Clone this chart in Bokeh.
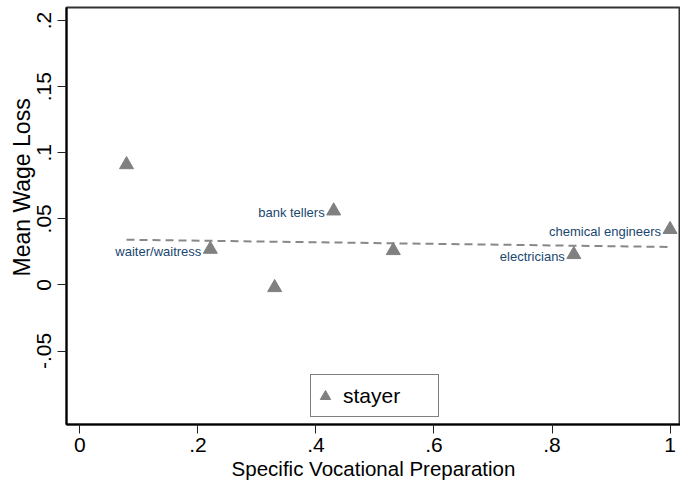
import math
from bokeh.plotting import figure
from bokeh.models import (ColumnDataSource, FixedTicker, Legend, LegendItem, Title)
from bokeh.core.properties import value
from bokeh.embed import file_html
from bokeh.resources import INLINE

# ---- data ----
svp = [0.079, 0.221, 0.330, 0.430, 0.531, 0.837, 1.000]
wage_loss = [0.091, 0.027, -0.002, 0.056, 0.026, 0.023, 0.042]
occ_labels = ["", "waiter/waitress", "", "bank tellers", "", "electricians", "chemical engineers"]
fit_x = [0.079, 1.000]
fit_y = [0.0342, 0.0287]
x_ticks = [0, 0.2, 0.4, 0.6, 0.8, 1.0]
x_tick_labels = ["0", ".2", ".4", ".6", ".8", "1"]
y_ticks = [-0.05, 0, 0.05, 0.1, 0.15, 0.2]
y_tick_labels = ["-.05", "0", ".05", ".1", ".15", ".2"]
series_name = "stayer"
x_title = "Specific Vocational Preparation"
y_title = "Mean Wage Loss"

FONT = "Liberation Sans"
GRAY = "#808080"
NAVY = "#1a476f"

p = figure(width=680, height=482, output_backend="svg", toolbar_location=None,
           x_range=(-0.0227, 1.0177), y_range=(-0.1056, 0.2099),
           min_border_left=66, min_border_right=0, min_border_top=7, min_border_bottom=57)
p.background_fill_color = "white"
p.border_fill_color = "white"
p.outline_line_color = "#333333"
p.outline_line_width = 2
p.xgrid.visible = False
p.ygrid.visible = False

src = ColumnDataSource(dict(x=svp, y=wage_loss, lab=occ_labels))

fit = p.line(fit_x, fit_y, line_color="#888888", line_width=2, line_dash="8 5")
pts = p.scatter("x", "y", source=src, marker="triangle", size=14,
                fill_color=GRAY, line_color=GRAY)
p.text("x", "y", text="lab", source=src, x_offset=-9, y_offset=2,
       text_align="right", text_baseline="middle",
       text_font=value(FONT), text_font_size="13px", text_color=NAVY)

# axes
xa = p.xaxis[0]
xa.ticker = FixedTicker(ticks=x_ticks)
xa.major_label_overrides = {t: l for t, l in zip(x_ticks, x_tick_labels)}
xa.axis_label = x_title
ya = p.yaxis[0]
ya.ticker = FixedTicker(ticks=y_ticks)
ya.major_label_overrides = {t: l for t, l in zip(y_ticks, y_tick_labels)}
ya.major_label_orientation = "vertical"

for ax in (xa, ya):
    ax.axis_line_color = "black"
    ax.axis_line_width = 2
    ax.major_tick_line_color = "#222222"
    ax.major_tick_line_width = 1
    ax.major_tick_out = 9
    ax.major_tick_in = 0
    ax.minor_tick_line_color = None
    ax.major_label_text_font = FONT
    ax.major_label_text_font_size = "21px"
    ax.major_label_text_color = "black"
    ax.axis_label_text_font = FONT
    ax.axis_label_text_font_size = "20.5px"
    ax.axis_label_text_font_style = "normal"
    ax.axis_label_text_color = "black"
xa.major_label_standoff = 4
xa.axis_label_standoff = 2
ya.major_label_standoff = 6

# y title, shifted along the axis like Stata (centred on the tick range)
p.add_layout(Title(text=y_title, align="left", offset=148,
                   text_font=FONT, text_font_size="23px", text_font_style="normal",
                   text_color="black", standoff=0), "left")

legend = Legend(items=[LegendItem(label=series_name, renderers=[pts])],
                location=(244, 7), orientation="vertical",
                border_line_color="black", border_line_width=1,
                background_fill_color="white", background_fill_alpha=1,
                padding=1, spacing=0, margin=0,
                glyph_width=26, glyph_height=26, label_standoff=5,
                label_width=94, label_height=39,
                label_text_font=FONT, label_text_font_size="21px",
                label_text_color="black")
p.add_layout(legend)

open("out.html", "w").write(file_html(p, INLINE))
